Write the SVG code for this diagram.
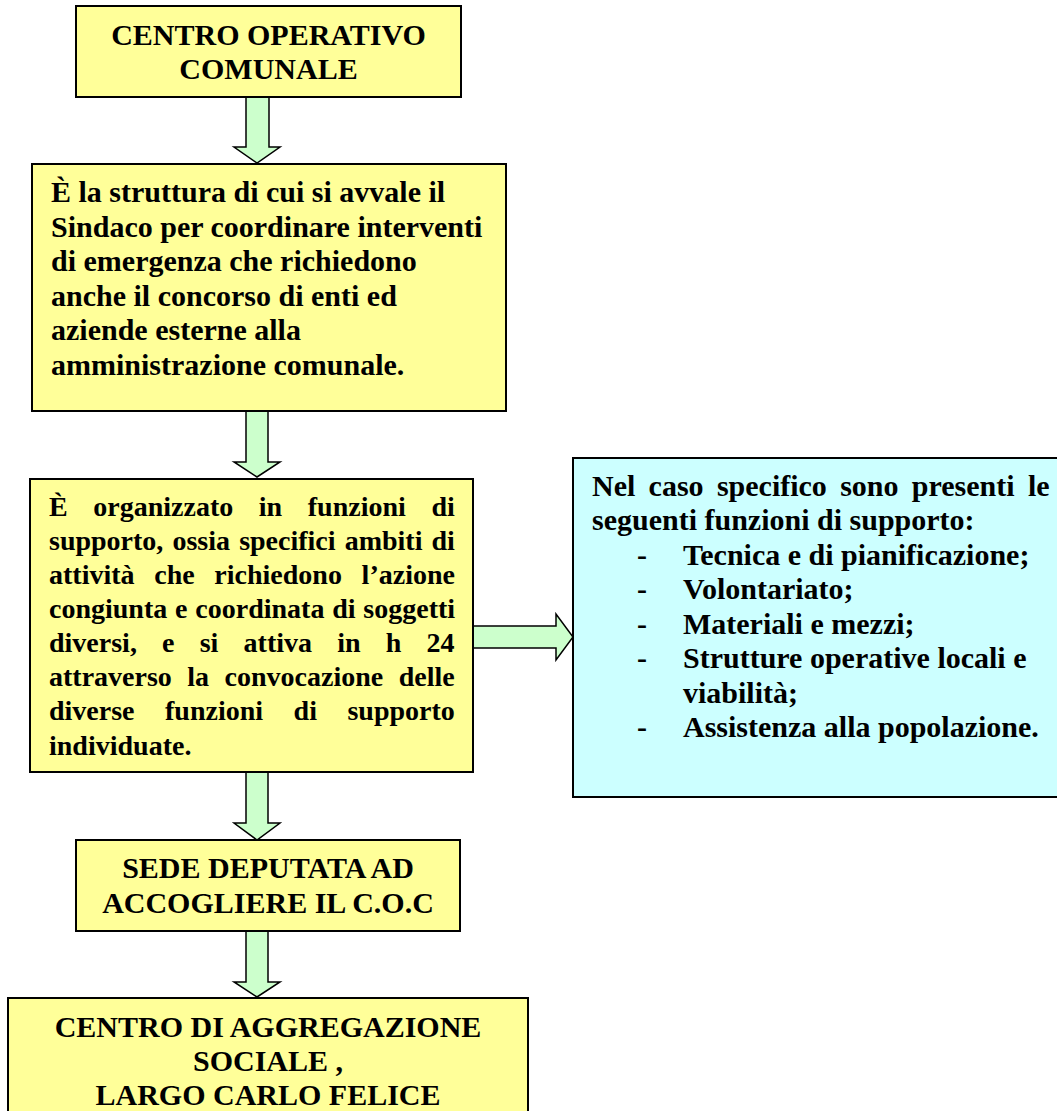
<svg xmlns="http://www.w3.org/2000/svg" width="1057" height="1111" viewBox="0 0 1057 1111">
  <style>
    .box { fill: #FFFF99; stroke: #000; stroke-width: 2; }
    .cyan { fill: #CCFFFF; stroke: #000; stroke-width: 2; }
    .arrow { fill: #CCFFCC; stroke: #000; stroke-width: 1.5; stroke-linejoin: miter; }
    text { font-family: "Liberation Serif", "Times New Roman", serif; font-weight: bold; fill: #000; }
    .t30 { font-size: 30px; }
    .t28 { font-size: 28px; }
    .c { text-anchor: middle; }
  </style>
  <rect width="1057" height="1111" fill="#fff"/>

  <!-- block arrows between the boxes -->
  <g id="connectors">
    <polygon class="arrow" points="246,97 269,97 269,147 280,147 257,163 234,147 246,147"/>
    <polygon class="arrow" points="246,411 268,411 268,462 280,462 257,477 234,462 246,462"/>
    <polygon class="arrow" points="473,626 556,626 556,614 573,637 556,660 556,648 473,648"/>
    <polygon class="arrow" points="246,772 268,772 268,823 280,823 257,840 234,823 246,823"/>
    <polygon class="arrow" points="246,931 268,931 268,982 280,982 257,997 234,982 246,982"/>
  </g>

  <g id="node-coc">
    <rect class="box" x="76" y="6" width="385" height="91"/>
    <text class="t30 c" x="268.5" y="45">CENTRO OPERATIVO</text>
    <text class="t30 c" x="268.5" y="79">COMUNALE</text>
  </g>

  <g id="node-struttura">
    <rect class="box" x="32" y="164" width="474" height="247"/>
    <text class="t30" x="51" y="202">È la struttura di cui si avvale il</text>
    <text class="t30" x="51" y="236.5">Sindaco per coordinare interventi</text>
    <text class="t30" x="51" y="271">di emergenza che richiedono</text>
    <text class="t30" x="51" y="305.5">anche il concorso di enti ed</text>
    <text class="t30" x="51" y="340">aziende esterne alla</text>
    <text class="t30" x="51" y="374.5">amministrazione comunale.</text>
  </g>

  <g id="node-organizzazione">
    <rect class="box" x="30" y="479" width="443" height="293"/>
    <text class="t28" x="49" y="516" word-spacing="18.6">È organizzato in funzioni di</text>
    <text class="t28" x="49" y="550" word-spacing="2.1">supporto, ossia specifici ambiti di</text>
    <text class="t28" x="49" y="584" word-spacing="12.7">attività che richiedono l’azione</text>
    <text class="t28" x="49" y="618" word-spacing="0.8">congiunta e coordinata di soggetti</text>
    <text class="t28" x="49" y="652" word-spacing="18.2">diversi, e si attiva in h 24</text>
    <text class="t28" x="49" y="686" word-spacing="8.5">attraverso la convocazione delle</text>
    <text class="t28" x="49" y="720" word-spacing="23.5">diverse funzioni di supporto</text>
    <text class="t28" x="49" y="755">individuate.</text>
  </g>

  <g id="node-funzioni">
    <rect class="cyan" x="573" y="458" width="500" height="339"/>
    <text class="t30" x="592" y="495.5" word-spacing="5.8">Nel caso specifico sono presenti le</text>
    <text class="t30" x="592" y="530">seguenti funzioni di supporto:</text>
    <text class="t30" x="637" y="564.5">-</text>
    <text class="t30" x="683" y="564.5">Tecnica e di pianificazione;</text>
    <text class="t30" x="637" y="599">-</text>
    <text class="t30" x="683" y="599">Volontariato;</text>
    <text class="t30" x="637" y="633.5">-</text>
    <text class="t30" x="683" y="633.5">Materiali e mezzi;</text>
    <text class="t30" x="637" y="668">-</text>
    <text class="t30" x="683" y="668">Strutture operative locali e</text>
    <text class="t30" x="683" y="702.5">viabilità;</text>
    <text class="t30" x="637" y="737">-</text>
    <text class="t30" x="683" y="737">Assistenza alla popolazione.</text>
  </g>

  <g id="node-sede">
    <rect class="box" x="76" y="840" width="384" height="91"/>
    <text class="t30 c" x="268" y="878">SEDE DEPUTATA AD</text>
    <text class="t30 c" x="268" y="913">ACCOGLIERE IL C.O.C</text>
  </g>

  <g id="node-centro-aggregazione">
    <rect class="box" x="8" y="998" width="520" height="130"/>
    <text class="t30 c" x="268" y="1037">CENTRO DI AGGREGAZIONE</text>
    <text class="t30 c" x="268" y="1071">SOCIALE ,</text>
    <text class="t30 c" x="268" y="1105">LARGO CARLO FELICE</text>
  </g>
</svg>
